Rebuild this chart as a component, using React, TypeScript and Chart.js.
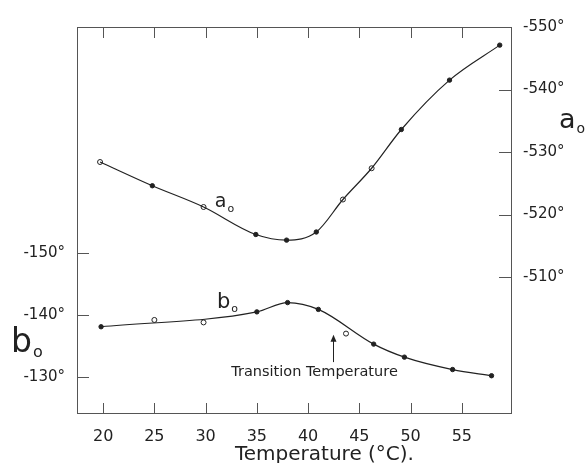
import { useEffect, useRef } from "react";
import { Chart, registerables } from "chart.js";

Chart.register(...registerables);

// a0 series (right axis)
const aTemps = [19.7, 24.8, 29.8, 34.9, 37.9, 40.8, 43.4, 46.2, 49.1, 53.8, 58.7];
const aValues = [-528.4, -524.6, -521.2, -516.8, -515.9, -517.2, -522.4, -527.4, -533.6, -541.5, -547.1];
const aOpen = [true, false, true, false, false, false, true, true, false, false, false];

// b0 series (left axis)
const bTemps = [19.8, 25.0, 29.8, 35.0, 38.0, 41.0, 43.7, 46.4, 49.4, 54.1, 57.9];
const bValues = [-138.1, -139.2, -138.8, -140.5, -142.0, -140.9, -137.0, -135.3, -133.2, -131.2, -130.2];
const bOpen = [false, true, true, false, false, false, true, false, false, false, false];

// ticks
const xTicks = [20, 25, 30, 35, 40, 45, 50, 55];
const bTicks = [-150, -140, -130];
const aTicks = [-550, -540, -530, -520, -510];

const xTitle = "Temperature (°C).";
const transitionText = "Transition Temperature";
const transitionTemp = 42.45;

const FONT = "DejaVu Sans";
const INK = "#222";

function subText(ctx: CanvasRenderingContext2D, main: string, sub: string, x: number, y: number, size: number, subSize: number, drop: number) {
  ctx.font = `${size}px "${FONT}"`;
  ctx.fillText(main, x, y);
  const w = ctx.measureText(main).width;
  ctx.font = `${subSize}px "${FONT}"`;
  ctx.fillText(sub, x + w + 1, y + drop);
}

const overlay = {
  id: "overlay",
  afterDraw(chart: any) {
    const { ctx, chartArea: ca, scales } = chart;
    const x = scales.x, yb = scales.yb, ya = scales.ya;
    ctx.save();
    ctx.strokeStyle = "#555";
    ctx.lineWidth = 1;
    ctx.strokeRect(Math.round(ca.left) + 0.5, Math.round(ca.top) + 0.5, Math.round(ca.right - ca.left), Math.round(ca.bottom - ca.top));
    ctx.beginPath();
    for (const t of xTicks) {
      const px = Math.round(x.getPixelForValue(t)) + 0.5;
      ctx.moveTo(px, ca.bottom);
      ctx.lineTo(px, ca.bottom - 10);
      ctx.moveTo(px, ca.top);
      ctx.lineTo(px, ca.top + 11);
    }
    for (const t of bTicks) {
      const py = Math.round(yb.getPixelForValue(t)) + 0.5;
      ctx.moveTo(ca.left, py);
      ctx.lineTo(ca.left + 12, py);
    }
    for (const t of aTicks) {
      const py = Math.round(ya.getPixelForValue(t)) + 0.5;
      ctx.moveTo(ca.right, py);
      ctx.lineTo(ca.right - 12, py);
    }
    ctx.stroke();

    ctx.fillStyle = INK;
    ctx.textAlign = "left";
    ctx.textBaseline = "alphabetic";

    // curve annotations
    subText(ctx, "a", "o", x.getPixelForValue(30.9), ya.getPixelForValue(-521.2), 19, 11, 5);
    subText(ctx, "b", "o", x.getPixelForValue(31.1), yb.getPixelForValue(-141.1), 21, 11, 4);

    // axis letter labels
    subText(ctx, "b", "o", ca.left - 66, yb.getPixelForValue(-134.0), 33, 16, 5);
    subText(ctx, "a", "o", ca.right + 48, ya.getPixelForValue(-533.8), 27, 14, 5);

    // transition temperature
    ctx.font = `14.5px "${FONT}"`;
    ctx.fillText(transitionText, x.getPixelForValue(32.5), yb.getPixelForValue(-130.2));
    const ax = Math.round(x.getPixelForValue(transitionTemp)) + 0.5;
    const yTip = yb.getPixelForValue(-136.8);
    const yTail = yb.getPixelForValue(-132.4);
    ctx.strokeStyle = INK;
    ctx.beginPath();
    ctx.moveTo(ax, yTail);
    ctx.lineTo(ax, yTip + 4);
    ctx.stroke();
    ctx.beginPath();
    ctx.moveTo(ax, yTip);
    ctx.lineTo(ax - 3, yTip + 7);
    ctx.lineTo(ax + 3, yTip + 7);
    ctx.closePath();
    ctx.fill();

    // x title
    ctx.font = `20px "${FONT}"`;
    ctx.textAlign = "center";
    ctx.fillText(xTitle, x.getPixelForValue(41.6), ca.bottom + 47);
    ctx.restore();
  },
};

const pts = (ts: number[], vs: number[]) => ts.map((t, i) => ({ x: t, y: vs[i] }));

export default function App() {
  const ref = useRef<HTMLCanvasElement | null>(null);
  useEffect(() => {
    const canvas = ref.current;
    if (!canvas) return;
    const lineStyle = {
      borderColor: INK,
      borderWidth: 1.2,
      cubicInterpolationMode: "monotone",
      pointRadius: 0,
      fill: false,
    };
    const markerStyle = (open: boolean[]) => ({
      showLine: false,
      pointRadius: open.map((o) => (o ? 2.5 : 2.2)),
      pointBackgroundColor: open.map((o) => (o ? "#fff" : INK)),
      pointBorderColor: INK,
      pointBorderWidth: 1,
    });
    const chart = new Chart(canvas, {
      type: "line",
      data: {
        datasets: [
          // a0 fitted curve passes through all measured points
          { label: "a0 curve", data: pts(aTemps, aValues), yAxisID: "ya", ...lineStyle },
          { label: "a0", data: pts(aTemps, aValues), yAxisID: "ya", ...markerStyle(aOpen) },
          // b0 fitted curve drawn through the filled points
          {
            label: "b0 curve",
            data: pts(bTemps, bValues).filter((_, i) => !bOpen[i]),
            yAxisID: "yb",
            ...lineStyle,
          },
          { label: "b0", data: pts(bTemps, bValues), yAxisID: "yb", ...markerStyle(bOpen) },
        ],
      },
      options: {
        responsive: false,
        animation: false,
        layout: { padding: { top: 27 } },
        plugins: { legend: { display: false }, tooltip: { enabled: false } },
        scales: {
          x: {
            type: "linear",
            min: 17.45,
            max: 59.8,
            grid: { display: false },
            border: { display: false },
            afterBuildTicks: (s: any) => {
              s.ticks = xTicks.map((v) => ({ value: v }));
            },
            afterFit: (s: any) => {
              s.height = 50;
            },
            ticks: { font: { family: FONT, size: 16 }, color: INK, padding: 6, maxRotation: 0, autoSkip: false },
          },
          yb: {
            type: "linear",
            position: "left",
            reverse: true,
            min: -186.45,
            max: -124.19,
            grid: { display: false },
            border: { display: false },
            afterBuildTicks: (s: any) => {
              s.ticks = bTicks.map((v) => ({ value: v }));
            },
            afterFit: (s: any) => {
              s.width = 77;
            },
            ticks: { font: { family: FONT, size: 15 }, color: INK, padding: 4, callback: (v: any) => `${v}°` },
          },
          ya: {
            type: "linear",
            position: "right",
            reverse: true,
            min: -550,
            max: -488.24,
            grid: { display: false },
            border: { display: false },
            afterBuildTicks: (s: any) => {
              s.ticks = aTicks.map((v) => ({ value: v }));
            },
            afterFit: (s: any) => {
              s.width = 74;
            },
            ticks: { font: { family: FONT, size: 15 }, color: INK, padding: 4, callback: (v: any) => `${v}°` },
          },
        },
      },
      plugins: [overlay],
    } as any);
    return () => chart.destroy();
  }, []);
  return (
    <div style={{ position: "absolute", left: 0, top: 0, width: 585, height: 463, background: "#fff" }}>
      <canvas ref={ref} width={585} height={463} style={{ display: "block" }} />
    </div>
  );
}
